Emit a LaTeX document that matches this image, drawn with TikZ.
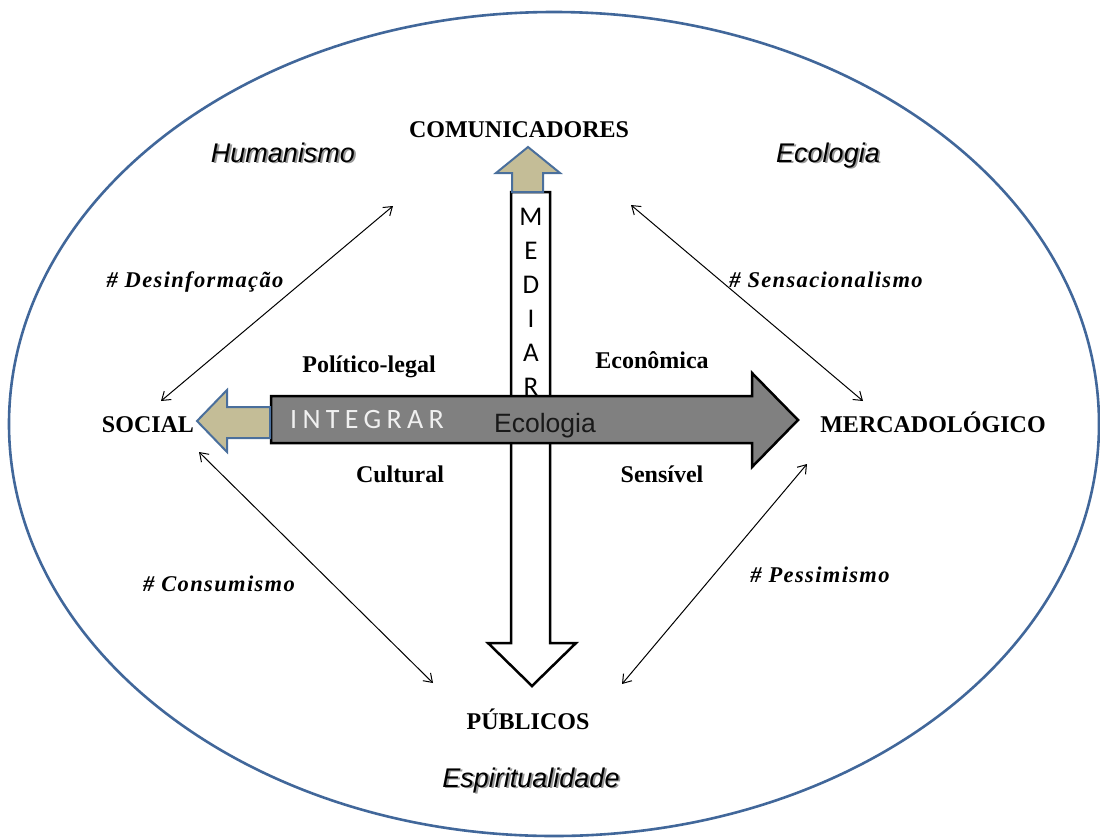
\documentclass[tikz,border=0pt]{standalone}
\usepackage{fontspec}
\setmainfont{Liberation Serif}
\newfontfamily\arialf{Liberation Sans}
\newfontfamily\calibf{Carlito}
\usetikzlibrary{arrows.meta}
\definecolor{ellblue}{HTML}{41679A}
\definecolor{tanfill}{HTML}{C4BD97}
\definecolor{tanedge}{HTML}{4A6F9C}
\definecolor{bargray}{HTML}{808080}
\newcommand{\shtext}[1]{\leavevmode\rlap{\kern1.8pt\raisebox{-1.8pt}{\textcolor{black!40}{#1}}}#1}
\begin{document}
\begin{tikzpicture}[x=1pt,y=-1pt,
  lbl/.style={inner sep=0pt, anchor=base, font=\fontsize{24}{26}\selectfont\bfseries},
  hashlbl/.style={inner sep=0pt, anchor=base, font=\fontsize{22.5}{24}\selectfont\bfseries\itshape\addfontfeature{LetterSpace=6}},
  ital/.style={inner sep=0pt, anchor=base, font=\fontsize{27}{30}\selectfont\arialf\itshape},
  dbl/.style={{Straight Barb[length=8pt,width=11pt]}-{Straight Barb[length=8pt,width=11pt]}, line width=1pt},
  bluearrow/.style={draw=tanedge, fill=tanfill, line width=2pt, line join=miter},
  blackshape/.style={draw=black, line width=2.5pt, line join=miter}
 ]
\useasboundingbox (0,0) rectangle (1100,839);
% outer ellipse
\draw[ellblue, line width=2.6pt] (554,424) ellipse [x radius=545, y radius=412];

% white vertical arrow (MEDIAR)
\draw[blackshape, fill=white] (511,192) -- (550,192) -- (550,643) -- (576,643) -- (532,686) -- (488,643) -- (511,643) -- cycle;
\node[inner sep=0pt, align=center, font=\fontsize{27}{34}\selectfont\calibf] (mediar) at (531,302) {M\\E\\D\\I\\A\\R};

% tan up arrow
\draw[bluearrow] (512,192) -- (512,173) -- (496,173) -- (528,147) -- (560,173) -- (543,173) -- (543,192) -- cycle;

% gray horizontal arrow
\draw[blackshape, fill=bargray] (271,396) -- (752,396) -- (752,373) -- (798,420) -- (752,467) -- (752,443) -- (271,443) -- cycle;
% tan left arrow
\draw[bluearrow] (270,407) -- (227,407) -- (227,390) -- (197,421) -- (227,452) -- (227,438) -- (270,438) -- cycle;

\node[inner sep=0pt, anchor=base, text=black!6, font=\fontsize{28}{30}\selectfont\calibf\addfontfeature{LetterSpace=19}] (integrar) at (367,428) {INTEGRAR};
\node[inner sep=0pt, anchor=base, text=black!90, font=\fontsize{26.5}{30}\selectfont\arialf] (ecobar) at (545,432) {Ecologia};

% main labels
\node[lbl] (com) at (519,137) {COMUNICADORES};
\node[lbl] (soc) at (148,432) {SOCIAL};
\node[lbl] (merc) at (933,432) {MERCADOLÓGICO};
\node[lbl] (pub) at (528,729) {PÚBLICOS};

\node[lbl] (pol) at (369,372) {Político-legal};
\node[lbl] (econ) at (652,368) {Econômica};
\node[lbl] (cult) at (400,482) {Cultural};
\node[lbl] (sens) at (662,482) {Sensível};

\node[hashlbl] (desinf) at (195,287) {\# Desinformação};
\node[hashlbl] (sensac) at (826,287) {\# Sensacionalismo};
\node[hashlbl] (consum) at (219,591) {\# Consumismo};
\node[hashlbl] (pessim) at (820,582) {\# Pessimismo};

\node[ital] (human) at (283,162) {\shtext{Humanismo}};
\node[ital] (ecotop) at (828,162) {\shtext{Ecologia}};
\node[ital] (espir) at (531,787) {\shtext{Espiritualidade}};

% double arrows
\coordinate (nwA) at (161,401);
\coordinate (nwB) at (393,206);
\coordinate (neA) at (631,205);
\coordinate (neB) at (863,401);
\coordinate (swA) at (199,452);
\coordinate (swB) at (433,683);
\coordinate (seA) at (807,464);
\coordinate (seB) at (622,684);
\draw[dbl] (nwA) -- (nwB);
\draw[dbl] (neA) -- (neB);
\draw[dbl] (swA) -- (swB);
\draw[dbl] (seA) -- (seB);
\end{tikzpicture}
\end{document}
